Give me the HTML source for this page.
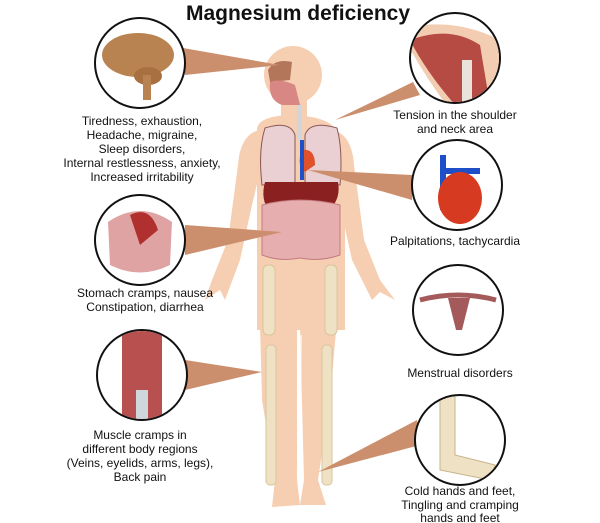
<!DOCTYPE html>
<html><head><meta charset="utf-8"><style>
html,body{margin:0;padding:0;background:#fff;}
svg{display:block;font-family:"Liberation Sans",Arial,sans-serif;}
</style></head><body>
<svg width="600" height="523" viewBox="0 0 600 523" xmlns="http://www.w3.org/2000/svg">
<defs>
<clipPath id="c1"><circle cx="140" cy="63" r="44"/></clipPath>
<clipPath id="c2"><circle cx="455" cy="58" r="44"/></clipPath>
<clipPath id="c3"><circle cx="457" cy="185" r="44"/></clipPath>
<clipPath id="c4"><circle cx="140" cy="240" r="44"/></clipPath>
<clipPath id="c5"><circle cx="458" cy="310" r="44"/></clipPath>
<clipPath id="c6"><circle cx="142" cy="375" r="44"/></clipPath>
<clipPath id="c7"><circle cx="460" cy="440" r="44"/></clipPath>
</defs>
<text x="298" y="20" text-anchor="middle" font-size="21" font-weight="bold" fill="#111">Magnesium deficiency</text>

<!-- body -->
<g fill="#f6cfb2">
<circle cx="293" cy="75" r="29"/>
<rect x="281" y="95" width="26" height="30"/>
<path d="M257 128 Q260 116 290 115 Q325 116 335 128 L345 160 L345 330 L257 330 L257 160 Z"/>
<path d="M259 130 Q240 135 238 165 L228 240 L212 280 L205 300 L220 290 L225 300 L240 260 L252 205 L258 180 Z"/>
<path d="M333 130 Q352 135 354 165 L364 240 L380 280 L395 300 L380 292 L372 300 L352 260 L340 205 L334 180 Z"/>
<path d="M258 250 L297 250 L297 480 L300 505 L272 507 L275 480 L262 400 Z"/>
<path d="M298 250 L343 250 L330 400 L318 480 L326 505 L300 505 L304 480 Z"/>
</g>
<path d="M297 335 L300 505 L302 335 Z" fill="#fff" opacity="0.6"/>
<!-- bones legs -->
<g fill="#efe2c4" stroke="#d8c49a" stroke-width="1">
<rect x="263" y="265" width="12" height="70" rx="5"/>
<rect x="325" y="265" width="12" height="70" rx="5"/>
<rect x="266" y="345" width="10" height="140" rx="4"/>
<rect x="322" y="345" width="10" height="140" rx="4"/>
</g>
<!-- organs -->
<path d="M265 128 Q290 120 295 135 L295 185 L262 185 Q258 150 265 128Z" fill="#ead0d3" stroke="#8a5555"/>
<path d="M337 128 Q310 120 305 135 L305 185 L340 185 Q343 150 337 128Z" fill="#ead0d3" stroke="#8a5555"/>
<rect x="297" y="105" width="5" height="35" fill="#cfd6dc"/>
<path d="M268 70 Q275 58 292 62 L290 80 L270 82Z" fill="#b4765a"/>
<path d="M270 82 Q280 78 295 85 L300 105 L282 105 Q268 100 270 82Z" fill="#d98784"/>
<path d="M302 150 Q315 148 315 165 L305 172 Q296 165 302 150Z" fill="#e0522a"/>
<rect x="300" y="140" width="4" height="40" fill="#2050c8"/>
<path d="M265 182 L338 182 Q342 205 320 215 L270 212 Q260 200 265 182Z" fill="#8b2020"/>
<path d="M262 205 Q300 195 340 205 L340 255 Q320 262 300 258 Q280 262 262 255Z" fill="#e7aeb0" stroke="#c27c80"/>
<!-- wedges -->
<g fill="#cc8f6e">
<polygon points="183,48 185,75 280,65"/>
<polygon points="413,82 420,95 335,120"/>
<polygon points="412,175 412,200 308,170"/>
<polygon points="185,225 185,255 282,232"/>
<polygon points="185,360 185,390 262,372"/>
<polygon points="417,420 420,445 318,472"/>
</g>
<!-- circles -->
<g fill="#fff" stroke="#111" stroke-width="2">
<circle cx="140" cy="63" r="45"/>
<circle cx="455" cy="58" r="45"/>
<circle cx="457" cy="185" r="45"/>
<circle cx="140" cy="240" r="45"/>
<circle cx="458" cy="310" r="45"/>
<circle cx="142" cy="375" r="45"/>
<circle cx="460" cy="440" r="45"/>
</g>
<!-- icons -->
<g clip-path="url(#c1)">
<ellipse cx="138" cy="55" rx="36" ry="22" fill="#b88350"/>
<ellipse cx="148" cy="76" rx="14" ry="9" fill="#a87040"/>
<rect x="143" y="75" width="8" height="25" fill="#b88350"/>
</g>
<g clip-path="url(#c2)">
<path d="M400 30 Q450 15 500 40 L500 110 L450 110 Q420 70 400 30Z" fill="#f2cdb2"/>
<path d="M410 40 Q450 25 480 45 L490 105 L455 105 Q425 70 410 40Z" fill="#b54b42"/>
<rect x="462" y="60" width="10" height="45" fill="#e8e4dc"/>
</g>
<g clip-path="url(#c3)">
<rect x="440" y="155" width="6" height="55" fill="#1e4fc8"/>
<rect x="440" y="168" width="40" height="6" fill="#1e4fc8"/>
<ellipse cx="460" cy="198" rx="22" ry="26" fill="#d63a20"/>
</g>
<g clip-path="url(#c4)">
<path d="M108 222 Q140 200 172 222 L170 265 Q140 280 110 265Z" fill="#e0a3a3"/>
<path d="M130 215 Q150 205 158 230 L140 245Z" fill="#b03030"/>
</g>
<g clip-path="url(#c5)">
<path d="M420 300 Q458 290 496 300" stroke="#a45a5a" stroke-width="5" fill="none"/>
<path d="M448 298 L470 298 L462 330 L456 330Z" fill="#a45a5a"/>
</g>
<g clip-path="url(#c6)">
<rect x="122" y="328" width="40" height="95" fill="#b85050"/>
<rect x="136" y="390" width="12" height="35" fill="#cfd6dc"/>
</g>
<g clip-path="url(#c7)">
<path d="M440 395 L455 395 L455 455 L495 465 L490 480 L440 470Z" fill="#efe2c4" stroke="#c8b48a"/>
</g>
<!-- labels -->
<g font-size="12" fill="#111" text-anchor="middle">
<text x="142" y="125">Tiredness, exhaustion,</text>
<text x="142" y="139">Headache, migraine,</text>
<text x="142" y="153">Sleep disorders,</text>
<text x="142" y="167">Internal restlessness, anxiety,</text>
<text x="142" y="181">Increased irritability</text>
<text x="455" y="119">Tension in the shoulder</text>
<text x="455" y="133">and neck area</text>
<text x="455" y="245">Palpitations, tachycardia</text>
<text x="145" y="297">Stomach cramps, nausea</text>
<text x="145" y="311">Constipation, diarrhea</text>
<text x="460" y="377">Menstrual disorders</text>
<text x="140" y="439">Muscle cramps in</text>
<text x="140" y="453">different body regions</text>
<text x="140" y="467">(Veins, eyelids, arms, legs),</text>
<text x="140" y="481">Back pain</text>
<text x="460" y="495">Cold hands and feet,</text>
<text x="460" y="509">Tingling and cramping</text>
<text x="460" y="522">hands and feet</text>
</g>
</svg>
</body></html>
